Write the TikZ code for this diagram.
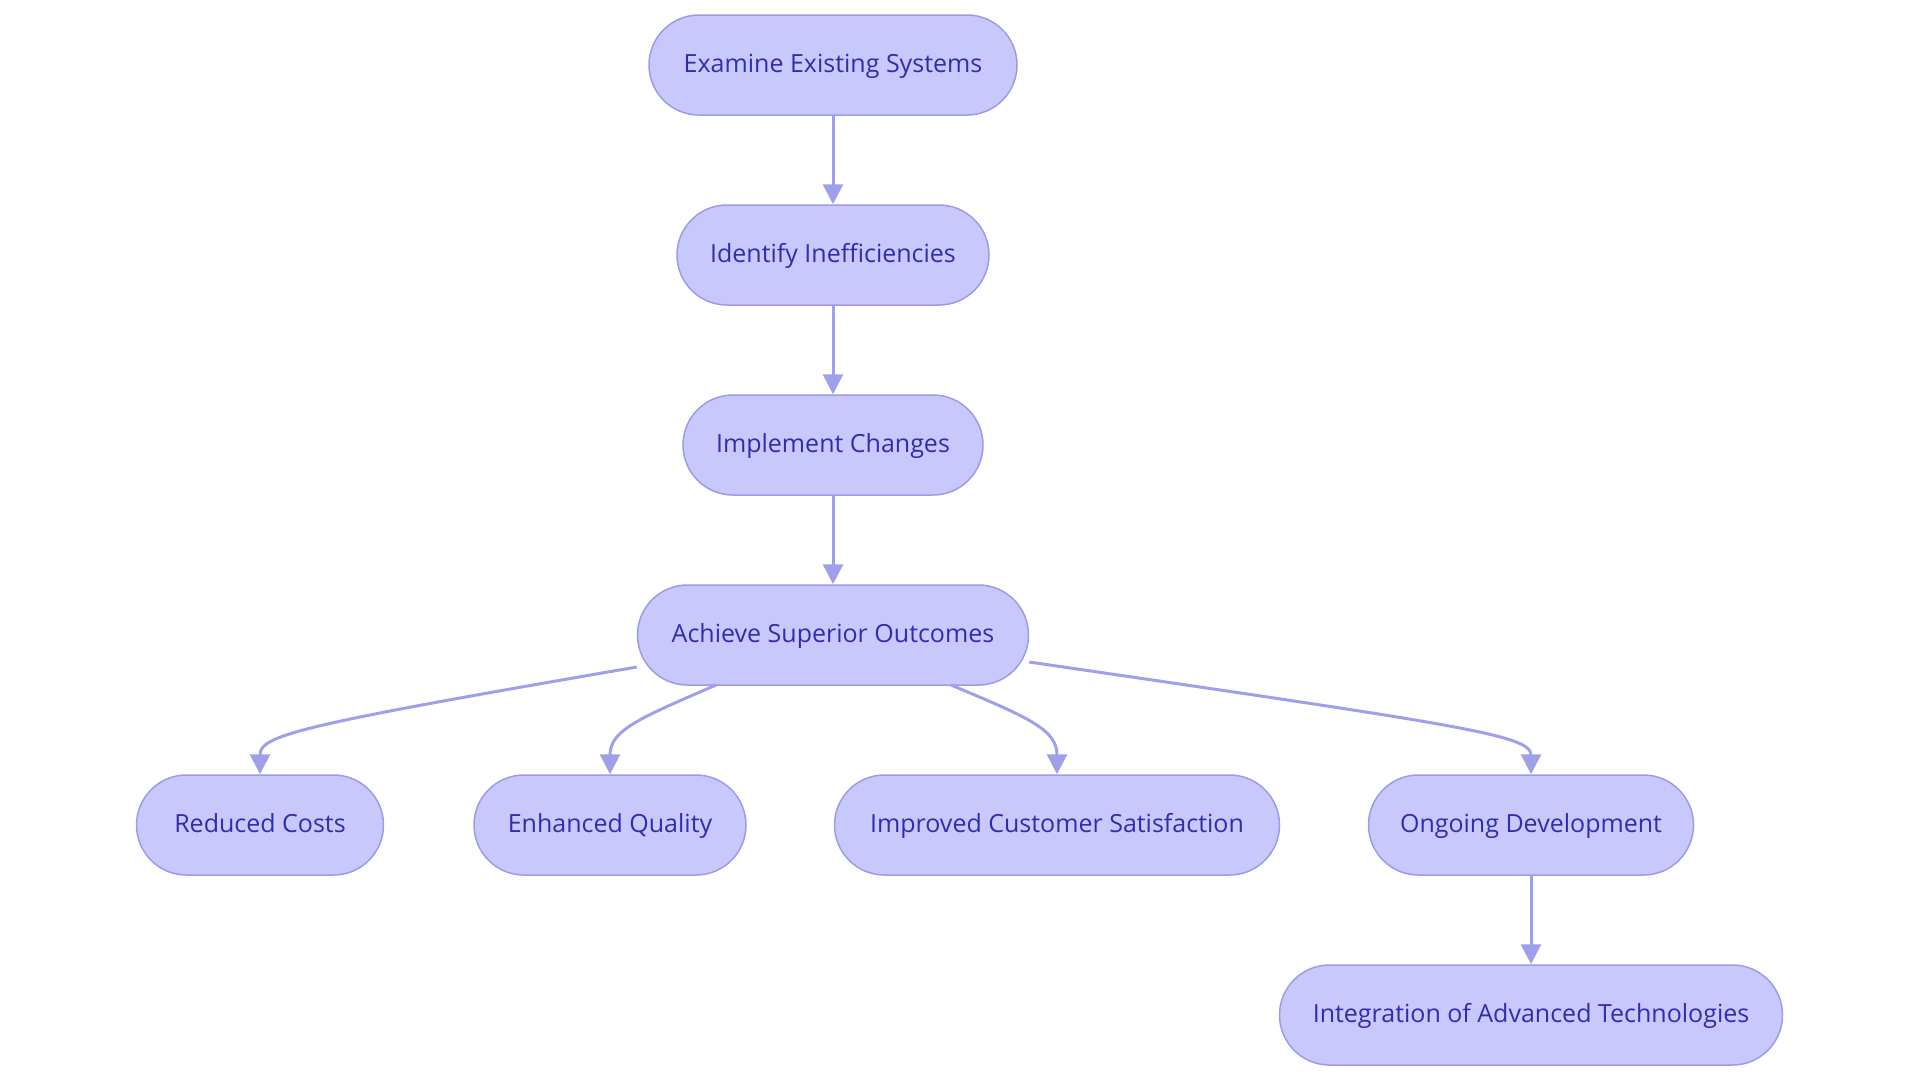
\documentclass[tikz,border=0pt]{standalone}
\usepackage{fontspec}
\setmainfont{Open Sans}
\usetikzlibrary{arrows.meta}
\definecolor{nfill}{HTML}{C8C8FC}
\definecolor{nborder}{HTML}{9C9CE6}
\definecolor{ntext}{HTML}{2E2EAE}
\definecolor{edgec}{HTML}{9FA0EC}
\begin{document}
\begin{tikzpicture}[x=1pt,y=-1pt,
  box/.style={draw=nborder, line width=1.5pt, fill=nfill, rounded corners=50pt,
    minimum height=100pt, inner sep=0pt, text=ntext, text height=18pt, text depth=4pt,
    font=\fontsize{25}{30}\selectfont},
  conn/.style={draw=edgec, line width=3pt, -{Triangle[length=20pt,width=20pt]}}]
\useasboundingbox (0,0) rectangle (1920,1080);
\node[box, minimum width=368pt] (exam) at (833,65) {Examine Existing Systems};
\node[box, minimum width=312pt] (iden) at (833,255) {Identify Inefficiencies};
\node[box, minimum width=300pt] (impl) at (833,445) {Implement Changes};
\node[box, minimum width=391pt] (achi) at (833,635) {Achieve Superior Outcomes};
\node[box, minimum width=247pt] (redu) at (260,825) {Reduced Costs};
\node[box, minimum width=272pt] (enha) at (610,825) {Enhanced Quality};
\node[box, minimum width=445pt] (impr) at (1057,825) {Improved Customer Satisfaction};
\node[box, minimum width=325pt] (ongo) at (1531,825) {Ongoing Development};
\node[box, minimum width=503pt] (inte) at (1531,1015) {Integration of Advanced Technologies};
\draw[conn] (exam) -- (iden);
\draw[conn] (iden) -- (impl);
\draw[conn] (impl) -- (achi);
\draw[conn] (achi.west |- 0,667) .. controls (300,725) and (260,735) .. (redu.north);
\draw[conn] (716,685) .. controls (640,718) and (610,730) .. (enha.north);
\draw[conn] (951,685) .. controls (1030,718) and (1057,730) .. (impr.north);
\draw[conn] (achi.east |- 0,662) .. controls (1460,725) and (1531,735) .. (ongo.north);
\draw[conn] (ongo) -- (inte);
\end{tikzpicture}
\end{document}
